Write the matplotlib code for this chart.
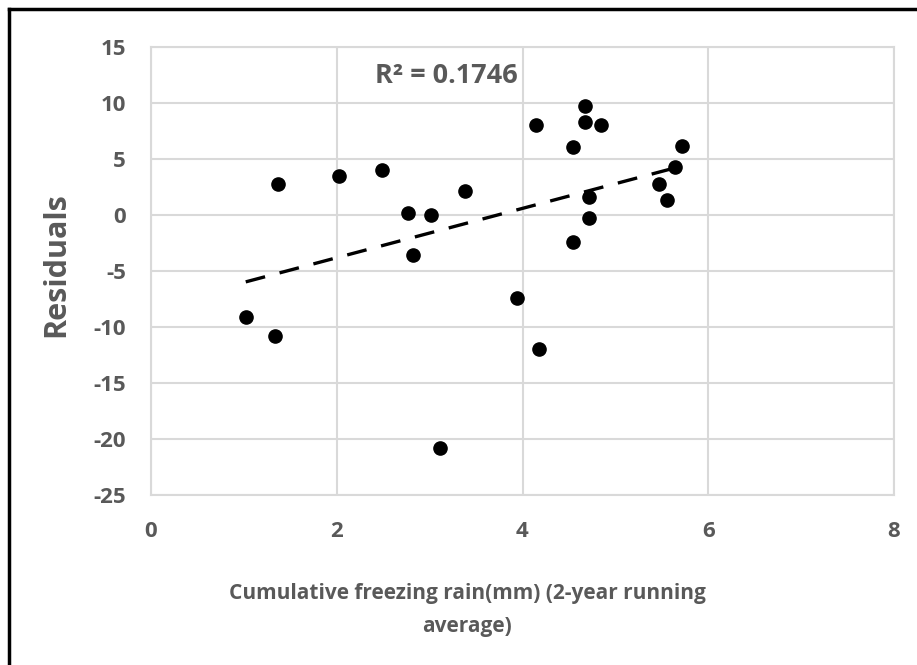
"""Residuals vs cumulative freezing rain, with a linear trendline."""

import matplotlib

matplotlib.use("Agg")
import matplotlib.pyplot as plt
from matplotlib.lines import Line2D
import numpy as np

TEXT_COLOR = "#595959"
GRID_COLOR = "#d9d9d9"
FONT = ["Open Sans", "DejaVu Sans"]

# Data
freezing_rain = [
    1.02, 1.33, 1.37, 2.02, 2.49, 2.77, 2.82, 3.02, 3.11, 3.38, 3.94, 4.15,
    4.18, 4.54, 4.54, 4.67, 4.67, 4.72, 4.72, 4.84, 5.47, 5.56, 5.64, 5.72,
]
residuals = [
    -9.1, -10.8, 2.8, 3.5, 4.0, 0.2, -3.6, 0.0, -20.8, 2.1, -7.4, 8.0,
    -12.0, 6.1, -2.4, 9.7, 8.3, 1.6, -0.3, 8.0, 2.8, 1.3, 4.3, 6.2,
]
x_ticks = [0, 2, 4, 6, 8]
y_ticks = [15, 10, 5, 0, -5, -10, -15, -20, -25]
r_squared_label = "R² = 0.1746"

plt.rcParams["font.family"] = FONT
plt.rcParams["font.weight"] = "bold"
plt.rcParams["axes.unicode_minus"] = False

fig = plt.figure(figsize=(9.17, 6.65), dpi=100)
ax = fig.add_axes([151 / 917, 1 - 495 / 665, (894 - 151) / 917, (495 - 47) / 665])

# Linear trendline over the data range (Excel style)
slope, intercept = np.polyfit(freezing_rain, residuals, 1)
trend_x = np.array([min(freezing_rain), max(freezing_rain)])
ax.plot(
    trend_x,
    slope * trend_x + intercept,
    color="black",
    linewidth=2.4,
    dashes=(6, 4.5),
    zorder=2,
)

ax.plot(freezing_rain, residuals, "o", color="black", markersize=9.5, zorder=3)

ax.set_xlim(0, 8)
ax.set_ylim(-25, 15)
ax.set_xticks(x_ticks)
ax.set_yticks(y_ticks)
ax.grid(True, color=GRID_COLOR, linewidth=1.5)
ax.set_axisbelow(True)
for spine in ax.spines.values():
    spine.set_color(GRID_COLOR)
    spine.set_linewidth(1.5)
ax.tick_params(axis="y", length=0, labelsize=16, colors=TEXT_COLOR, pad=18)
ax.tick_params(axis="x", length=0, labelsize=16, colors=TEXT_COLOR, pad=19)
for label in ax.get_yticklabels():
    label.set_fontweight("bold")
for label in ax.get_xticklabels():
    label.set_fontweight("bold")

ax.set_ylabel("Residuals", fontsize=22, color=TEXT_COLOR, fontweight="bold")
ax.yaxis.set_label_coords(71 / 917, 1 - 265 / 665, transform=fig.transFigure)

fig.text(
    467 / 917,
    1 - 610 / 665,
    "Cumulative freezing rain(mm) (2-year running\naverage)",
    ha="center",
    va="center",
    fontsize=15,
    color=TEXT_COLOR,
    fontweight="bold",
    linespacing=1.75,
)

ax.text(3.95, 12.4, r_squared_label, ha="right", va="center", fontsize=19.5,
        color=TEXT_COLOR, fontweight="bold")

# Black frame on the top and left edges of the image
fig.add_artist(Line2D([9 / 917, 9 / 917], [0, 1 - 9 / 665], color="black", linewidth=2.5))
fig.add_artist(Line2D([9 / 917, 1], [1 - 9 / 665, 1 - 9 / 665], color="black", linewidth=2.5))

fig.savefig("out.png", dpi=100, facecolor="white")
